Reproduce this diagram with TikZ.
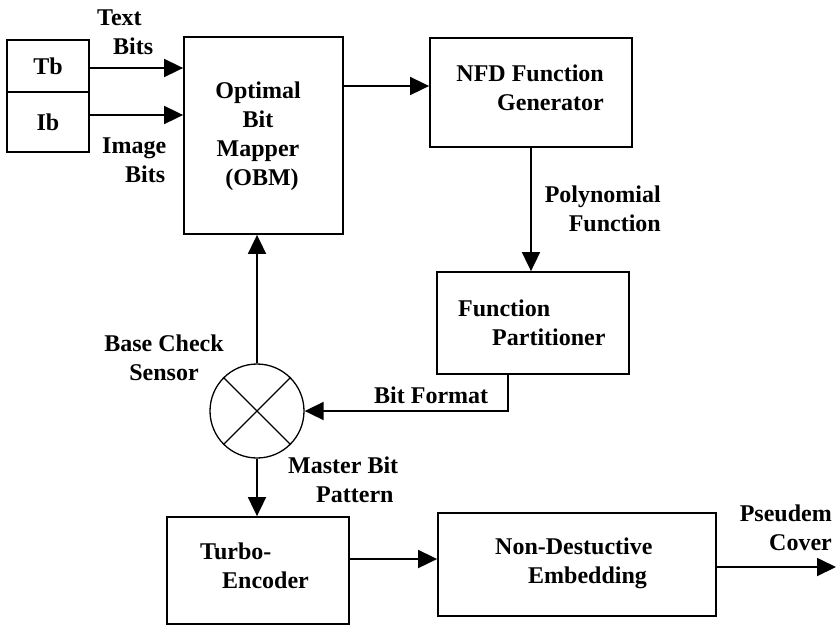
\documentclass[tikz,border=0pt]{standalone}
\usepackage{fontspec}
\setmainfont{Liberation Serif}
\usetikzlibrary{arrows.meta}
\begin{document}
\begin{tikzpicture}[x=1pt,y=-1pt,
  font=\fontsize{24}{29}\selectfont\bfseries,
  blk/.style={draw, line width=1.8pt, inner sep=0pt, minimum width=#1},
  arr/.style={line width=1.8pt, -{Triangle[length=19pt,width=18pt]}},
  lbl/.style={inner sep=0pt, align=left, anchor=base west},
  lblr/.style={inner sep=0pt, align=right, anchor=base east},
  lblc/.style={inner sep=0pt, align=center, anchor=base}]
\useasboundingbox (0,0) rectangle (837,625);

% source registers
\node[blk=82pt, minimum height=52pt] (tb) at (48,66) {Tb};
\node[blk=82pt, minimum height=60pt] (ib) at (48,122) {Ib};

% processing blocks
\node[blk=159pt, minimum height=197pt] (obm) at (263.5,135.5) {};
\node[blk=202pt, minimum height=109pt] (nfd) at (531,92.5) {};
\node[blk=192pt, minimum height=102pt] (fp)  at (533,323) {};
\node[blk=182pt, minimum height=107pt] (te)  at (258,570.5) {};
\node[blk=278pt, minimum height=103pt] (nde) at (577,564.5) {};

% base check sensor (circle with cross)
\node[draw, circle, line width=1.3pt, minimum size=94pt, inner sep=0pt] (bcs) at (257,411) {};
\draw[line width=1.3pt] (bcs.135) -- (bcs.-45) (bcs.45) -- (bcs.-135);

\coordinate (out) at (836,567);

% block texts (anchored at the baseline of their last line)
\node[lblc] (tobm) at (258,185) {Optimal\\Bit\\Mapper\\\hspace*{8pt}(OBM)};
\node[lblr] (tnfd) at (604,110) {NFD Function\\Generator};
\node[lbl]  (tfp)  at (458,345) {Function\\\hspace*{34pt}Partitioner};
\node[lbl]  (tte)  at (200,588) {Turbo-\\\hspace*{22pt}Encoder};
\node[lbl]  (tnde) at (495,583) {Non-Destuctive\\\hspace*{33pt}Embedding};

% connector labels
\node[lbl]  (ltext) at (97,54) {Text\\\hspace*{16pt}Bits};
\node[lbl]  (limg)  at (102,182) {Image\\\hspace*{23pt}Bits};
\node[lblr] (lpoly) at (661,231) {Polynomial\\Function};
\node[lbl]  (lbf)   at (374,403) {Bit Format};
\node[lblc] (lbcs)  at (164,380) {Base Check\\Sensor};
\node[lbl]  (lmbp)  at (288,502) {Master Bit\\\hspace*{28pt}Pattern};
\node[lblr] (lout)  at (832,550) {Pseudem\\Cover};

% connectors
\draw[arr] ([yshift=-2pt]tb.east) -- ([yshift=-2pt]tb.east -| obm.west);
\draw[arr] ([yshift=7pt]ib.east) -- ([yshift=7pt]ib.east -| obm.west);
\draw[arr] ([yshift=6.5pt]nfd.west -| obm.east) -- ([yshift=6.5pt]nfd.west);
\draw[arr] (nfd.south) -- (nfd.south |- fp.north);
\draw[arr] ([xshift=-25pt]fp.south) |- (bcs.east);
\draw[arr] (bcs.north) -- (bcs.north |- obm.south);
\draw[arr] (bcs.south) -- (bcs.south |- te.north);
\draw[arr] ([yshift=11.5pt]te.east) -- ([yshift=11.5pt]te.east -| nde.west);
\draw[arr] (nde.east |- out) -- (out);
\end{tikzpicture}
\end{document}
